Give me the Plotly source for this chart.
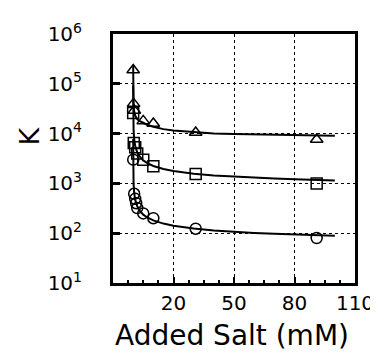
import plotly.graph_objects as go

# measured points
tri_x = [0.005, 0.2, 0.6, 5, 10, 31, 91]
tri_y = [1.9e5, 4.0e4, 2.9e4, 1.8e4, 1.6e4, 1.05e4, 7.6e3]
sq_x = [0.0, 0.3, 1, 2, 5, 10, 31, 91]
sq_y = [2.6e4, 6.5e3, 5.3e3, 4.0e3, 3.0e3, 2.2e3, 1.55e3, 1.0e3]
ci_x = [0.02, 0.5, 1, 1.5, 2, 5, 10, 31, 91]
ci_y = [3000, 620, 490, 400, 320, 250, 200, 123, 80]

# fitted curves
fit_x = [0.003, 0.005, 0.01, 0.02, 0.05, 0.1, 0.2, 0.5, 1, 2, 3, 5, 7, 10,
         15, 20, 30, 40, 50, 60, 70, 80, 90, 100]
fit_tri = [2.4e5, 1.9e5, 1.4e5, 1.0e5, 6.5e4, 4.8e4, 3.7e4, 2.8e4, 2.3e4, 1.95e4,
           1.8e4, 1.65e4, 1.5e4, 1.37e4, 1.23e4, 1.15e4, 1.06e4, 1.0e4, 9.8e3,
           9.6e3, 9.4e3, 9.3e3, 9.2e3, 9.1e3]
fit_sq = [92000, 72000, 51000, 36000, 23000, 16500, 11900, 7750, 5670, 4200,
          3550, 2890, 2550, 2240, 1940, 1770, 1560, 1440, 1360, 1300, 1250,
          1210, 1180, 1150]
fit_ci = [7800, 6060, 4300, 3050, 1950, 1390, 1000, 650, 470, 350, 290, 236,
          207, 181, 156, 141, 124, 113, 106, 101, 97, 94, 91, 89]

x_ticks = [20, 50, 80, 110]
y_tickvals = [10, 100, 1000, 1e4, 1e5, 1e6]
y_ticktext = ["10<sup>1</sup>", "10<sup>2</sup>", "10<sup>3</sup>",
              "10<sup>4</sup>", "10<sup>5</sup>", "10<sup>6</sup>"]
x_title = "Added Salt (mM)"
y_title = "K"

FONT = "DejaVu Sans"
fig = go.Figure()
for fy in (fit_tri, fit_sq, fit_ci):
    fig.add_trace(go.Scatter(x=fit_x, y=fy, mode="lines",
                             line=dict(color="black", width=2),
                             showlegend=False, hoverinfo="skip"))
for xs, ys, sym in ((tri_x, tri_y, "triangle-up-open"),
                    (sq_x, sq_y, "square-open"),
                    (ci_x, ci_y, "circle-open")):
    fig.add_trace(go.Scatter(x=xs, y=ys, mode="markers",
                             marker=dict(symbol=sym, size=11, color="black",
                                         line=dict(width=1.5, color="black")),
                             showlegend=False))

fig.update_layout(
    width=378, height=360,
    margin=dict(l=105, r=22, t=22, b=85),
    paper_bgcolor="white", plot_bgcolor="white",
    font=dict(family=FONT, color="black"),
    xaxis=dict(range=[-10, 110], tickvals=x_ticks, ticktext=[str(v) for v in x_ticks],
               tickfont=dict(size=20), ticks="inside", ticklen=6, tickwidth=2,
               tickcolor="black", ticklabelstandoff=0,
               minor=dict(tick0=-10, dtick=7.5, ticks="inside", ticklen=3,
                          tickwidth=2, tickcolor="black", showgrid=False),
               showgrid=True, gridcolor="black", gridwidth=1, griddash="dot",
               showline=True, linecolor="black", linewidth=3, mirror=True,
               zeroline=False),
    yaxis=dict(type="log", range=[1, 6], tickvals=y_tickvals, ticktext=y_ticktext,
               tickfont=dict(size=20), ticks="inside", ticklen=7, tickwidth=3,
               tickcolor="black", ticklabelstandoff=24,
               showgrid=True, gridcolor="black", gridwidth=1, griddash="dot",
               showline=True, linecolor="black", linewidth=3, mirror=True,
               zeroline=False),
    annotations=[
        dict(text=y_title, xref="paper", yref="paper", x=-0.345, y=0.59,
             xanchor="center", yanchor="middle", showarrow=False, textangle=-90,
             font=dict(size=27, family=FONT, color="black")),
        dict(text=x_title, xref="paper", yref="paper", x=0.49, y=-0.21,
             xanchor="center", yanchor="middle", showarrow=False,
             font=dict(size=28, family=FONT, color="black")),
    ],
)
fig.write_html("out.html")
